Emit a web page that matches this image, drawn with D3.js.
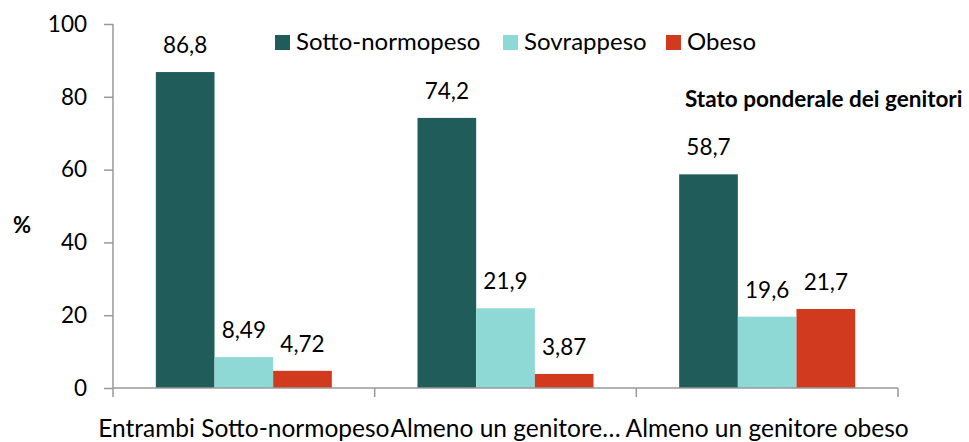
<!DOCTYPE html>
<html lang="it">
<head>
	<meta charset="UTF-8">
	<title>Stato ponderale dei genitori</title>
	<style>
		body{ margin:0; background:#fff; }
		svg text{ font-family: Lato, "Open Sans", sans-serif; fill:#000; }
		.axis path, .axis line{ fill:none; stroke:#999; stroke-width:1.5; }
	</style>
</head>
<body>
	<script src="https://d3js.org/d3.v7.min.js"></script>
	<script>
		var width = 969, height = 442;
		var margin = {top:24, left:113, right:71, bottom:54};

		// dati
		var categories = ['Entrambi Sotto-normopeso', 'Almeno un genitore sovrappeso', 'Almeno un genitore obeso'];
		var tickLabels = ['Entrambi Sotto-normopeso', 'Almeno un genitore…', 'Almeno un genitore obeso'];
		var series = ['Sotto-normopeso', 'Sovrappeso', 'Obeso'];
		var sottoNormopeso = [86.8, 74.2, 58.7];
		var sovrappeso = [8.49, 21.9, 19.6];
		var obeso = [4.72, 3.87, 21.7];
		var valueLabels = [['86,8', '74,2', '58,7'], ['8,49', '21,9', '19,6'], ['4,72', '3,87', '21,7']];
		var yTicks = [0, 20, 40, 60, 80, 100];
		var colors = ['#1f5c5a', '#8ed9d6', '#d13a1e'];

		var values = [sottoNormopeso, sovrappeso, obeso];
		var rows = [];
		categories.forEach(function(c, i){
			series.forEach(function(s, j){
				rows.push({cat:c, serie:s, value:values[j][i], label:valueLabels[j][i]});
			});
		});

		var svg = d3.select('body').append('svg')
			.attr('width', width).attr('height', height);

		var x0 = d3.scaleBand().domain(categories)
			.range([margin.left, width - margin.right]);
		var x1 = d3.scaleBand().domain(series)
			.range([0, x0.bandwidth()]).paddingOuter(0.73);
		var y = d3.scaleLinear().domain([0, 100])
			.range([height - margin.bottom, margin.top]);
		var color = d3.scaleOrdinal().domain(series).range(colors);

		// barre
		svg.append('g').selectAll('rect')
			.data(rows).enter().append('rect')
			.attr('x', function(d){ return x0(d.cat) + x1(d.serie); })
			.attr('y', function(d){ return y(d.value); })
			.attr('width', x1.bandwidth())
			.attr('height', function(d){ return y(0) - y(d.value); })
			.attr('fill', function(d){ return color(d.serie); });

		// etichette
		svg.append('g').selectAll('text')
			.data(rows).enter().append('text')
			.attr('x', function(d){ return x0(d.cat) + x1(d.serie) + x1.bandwidth()/2; })
			.attr('y', function(d){ return y(d.value) - 19; })
			.attr('text-anchor', 'middle')
			.style('font-size', '22.5px')
			.text(function(d){ return d.label; });

		// asse y
		var yAxis = d3.axisLeft(y).tickValues(yTicks).tickSize(9).tickPadding(17);
		var gy = svg.append('g').attr('class', 'axis')
			.attr('transform', 'translate(' + margin.left + ',0)').call(yAxis);
		gy.selectAll('text').style('font-size', '22.5px');
		gy.select('.domain').attr('d', 'M0,' + y(100) + 'V' + y(0));

		// asse x
		var xAxis = d3.axisBottom(x0).tickSize(0)
			.tickFormat(function(d, i){ return tickLabels[i]; });
		var gx = svg.append('g').attr('class', 'axis')
			.attr('transform', 'translate(0,' + y(0) + ')').call(xAxis);
		gx.select('.domain').attr('d', 'M' + margin.left + ',0H' + (width - margin.right));
		gx.selectAll('text').attr('y', 49).attr('dy', 0).style('font-size', '24.5px');
		gx.selectAll('.sep').data(d3.range(categories.length + 1)).enter()
			.append('line').attr('class', 'sep')
			.attr('x1', function(i){ return margin.left + i * x0.step(); })
			.attr('x2', function(i){ return margin.left + i * x0.step(); })
			.attr('y1', 0).attr('y2', 9);

		// titolo asse
		svg.append('text').attr('x', 22).attr('y', 233)
			.attr('text-anchor', 'middle')
			.style('font-size', '22px').style('font-weight', 'bold')
			.text('%');

		svg.append('text').attr('x', 685).attr('y', 107)
			.style('font-size', '22.5px').style('font-weight', 'bold')
			.text('Stato ponderale dei genitori');

		// legenda
		var legendX = [275, 503, 666];
		var leg = svg.append('g').selectAll('g')
			.data(series).enter().append('g')
			.attr('transform', function(d, i){ return 'translate(' + legendX[i] + ',35)'; });
		leg.append('rect').attr('width', 15).attr('height', 15)
			.attr('fill', function(d){ return color(d); });
		leg.append('text').attr('x', 21).attr('y', 15)
			.style('font-size', '24px')
			.text(function(d){ return d; });
	</script>
</body>
</html>
